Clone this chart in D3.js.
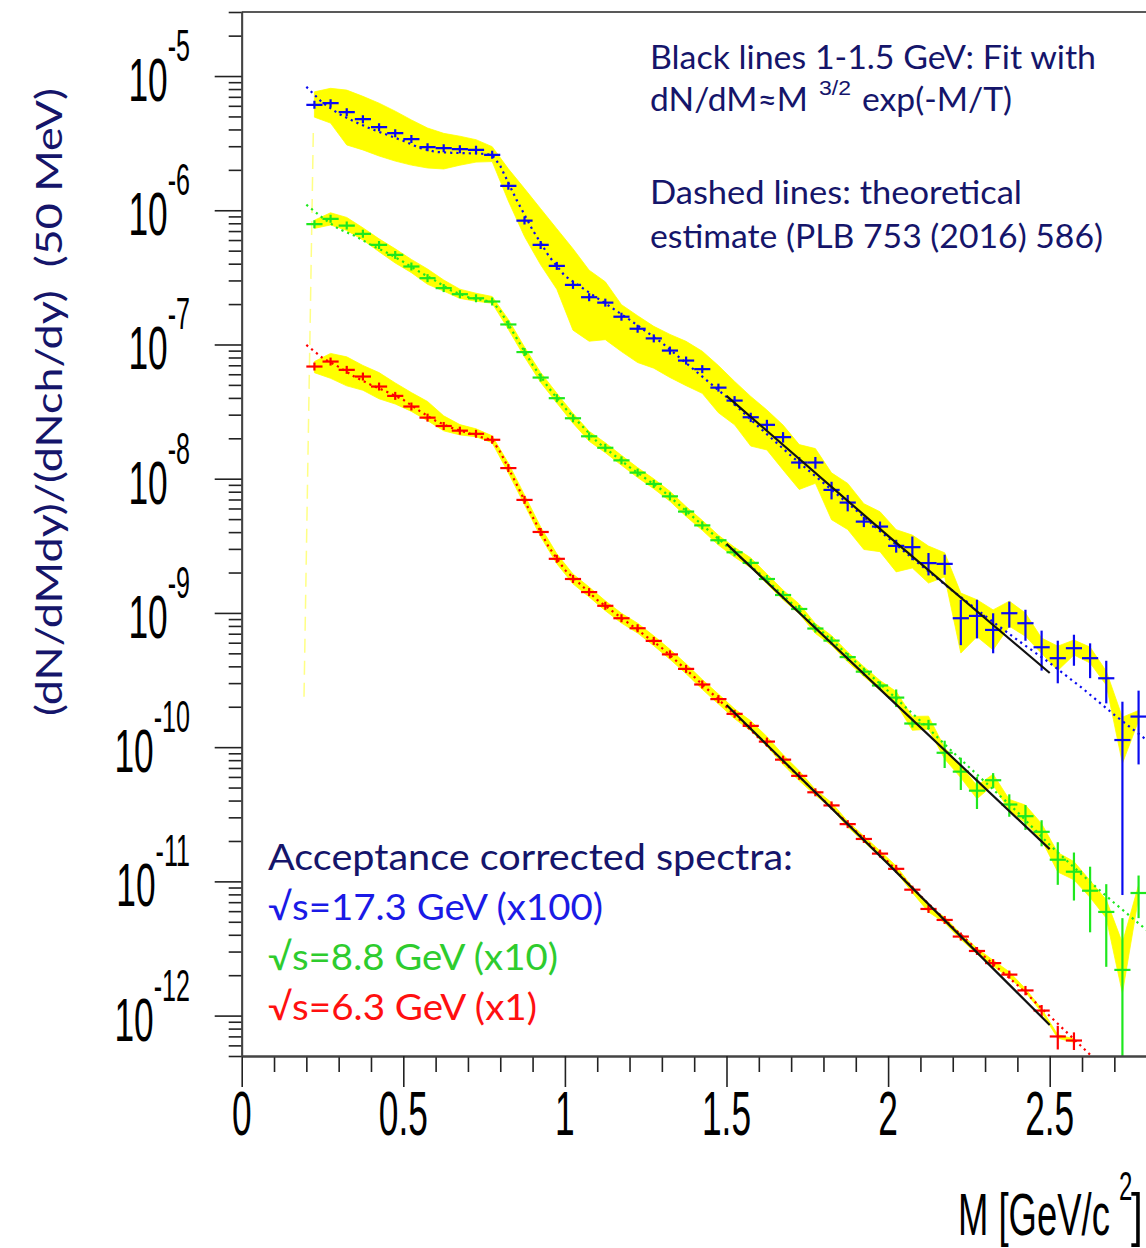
<!DOCTYPE html>
<html>
<head>
<meta charset="utf-8">
<script src="https://cdn.jsdelivr.net/npm/d3@7/dist/d3.min.js"></script>
<style>
  html, body { margin:0; padding:0; background:#fff; }
  svg { display:block; }
</style>
</head>
<body>
<svg id="chart" width="1146" height="1248"></svg>
<script>
// ---------------- DATA ----------------
const massBins = [0.225,0.275,0.325,0.375,0.425,0.475,0.525,0.575,0.625,0.675,0.725,0.775,
  0.825,0.875,0.925,0.975,1.025,1.075,1.125,1.175,1.225,1.275,1.325,1.375,
  1.425,1.475,1.525,1.575,1.625,1.675,1.725,1.775,1.825,1.875,1.925,1.975,
  2.025,2.075,2.125,2.175,2.225,2.275,2.325,2.375,2.425,2.475,2.525,2.575,
  2.625,2.675,2.725,2.775];

// sqrt(s)=17.3 GeV (x100)
const blueValues = [6.10e-6,6.28e-6,5.38e-6,4.77e-6,4.16e-6,3.75e-6,3.39e-6,2.95e-6,2.90e-6,2.85e-6,2.82e-6,2.59e-6,
  1.52e-6,8.38e-7,5.52e-7,3.85e-7,2.78e-7,2.25e-7,2.05e-7,1.61e-7,1.31e-7,1.11e-7,9.01e-8,7.59e-8,
  6.55e-8,4.77e-8,3.82e-8,2.87e-8,2.52e-8,2.04e-8,1.32e-8,1.32e-8,8.25e-9,6.64e-9,4.79e-9,4.40e-9,
  3.16e-9,3.09e-9,2.35e-9,2.32e-9,9.13e-10,9.50e-10,7.47e-10,9.95e-10,8.38e-10,5.55e-10,4.60e-10,5.46e-10,
  4.60e-10,3.26e-10,1.13e-10,1.69e-10];
const blueErr = [0.03,0.03,0.03,0.03,0.03,0.03,0.03,0.03,0.03,0.03,0.03,0.03,
  0.04,0.04,0.04,0.04,0.04,0.04,0.04,0.04,0.04,0.04,0.05,0.05,
  0.05,0.05,0.08,0.08,0.09,0.09,0.10,0.10,0.15,0.14,0.09,0.09,
  0.11,0.20,0.19,0.17,0.37,0.32,0.33,0.22,0.26,0.33,0.35,0.26,
  0.29,0.35,0.93,0.56];
const blueSysUp = [0.25,0.29,0.46,0.48,0.51,0.46,0.39,0.39,0.29,0.25,0.19,0.15,
  0.34,0.73,0.86,0.89,0.86,0.59,0.43,0.23,0.25,0.23,0.32,0.39,
  0.36,0.46,0.39,0.43,0.29,0.23,0.36,0.27,0.34,0.39,0.36,0.29,
  0.32,0.23,0.34,0.21,0.54,0.32,0.41,0.23,0.19,0.17,0.23,0.15,
  0.21,0.13,0.48,0.11];
const blueSysDn = [0.19,0.29,0.43,0.41,0.39,0.38,0.36,0.30,0.30,0.24,0.19,0.11,
  0.23,0.24,0.29,0.33,0.54,0.53,0.47,0.45,0.44,0.40,0.37,0.35,
  0.34,0.35,0.34,0.39,0.35,0.43,0.37,0.30,0.40,0.37,0.38,0.35,
  0.36,0.30,0.29,0.20,0.45,0.30,0.29,0.20,0.20,0.10,0.19,0.11,
  0.08,0.11,0.33,0.07];

// sqrt(s)=8.8 GeV (x10)
const greenValues = [7.88e-7,8.63e-7,7.69e-7,6.67e-7,5.52e-7,4.65e-7,3.81e-7,3.12e-7,2.63e-7,2.37e-7,2.21e-7,2.09e-7,
  1.41e-7,8.78e-8,5.67e-8,3.98e-8,2.82e-8,2.07e-8,1.70e-8,1.37e-8,1.11e-8,9.15e-9,7.39e-9,5.69e-9,
  4.49e-9,3.48e-9,2.83e-9,2.36e-9,1.79e-9,1.36e-9,1.07e-9,7.65e-10,6.22e-10,4.69e-10,3.65e-10,2.88e-10,
  2.34e-10,1.50e-10,1.48e-10,9.08e-11,6.57e-11,4.74e-11,5.67e-11,3.74e-11,3.06e-11,2.34e-11,1.45e-11,1.18e-11,
  8.52e-12,5.92e-12,2.19e-12,8.19e-12];
const greenErr = [0.03,0.03,0.03,0.03,0.03,0.03,0.03,0.03,0.03,0.03,0.03,0.03,
  0.03,0.03,0.03,0.03,0.03,0.03,0.03,0.03,0.03,0.04,0.04,0.04,
  0.04,0.04,0.04,0.04,0.04,0.04,0.04,0.06,0.06,0.06,0.06,0.06,
  0.15,0.06,0.08,0.23,0.27,0.27,0.13,0.19,0.21,0.22,0.35,0.39,
  0.51,0.61,1.43,0.35];
const greenSysUp = [0.07,0.11,0.15,0.11,0.11,0.11,0.13,0.17,0.15,0.09,0.09,0.09,
  0.09,0.09,0.09,0.09,0.09,0.09,0.09,0.09,0.09,0.09,0.09,0.09,
  0.09,0.09,0.09,0.09,0.09,0.09,0.09,0.09,0.09,0.09,0.09,0.09,
  0.11,0.13,0.15,0.09,0.11,0.09,0.11,0.09,0.21,0.15,0.13,0.19,
  0.19,0.23,0.59,0.15];
const greenSysDn = [0.07,0.10,0.08,0.10,0.11,0.13,0.10,0.10,0.05,0.07,0.05,0.03,
  0.08,0.08,0.08,0.08,0.08,0.08,0.08,0.08,0.08,0.08,0.08,0.08,
  0.08,0.08,0.08,0.08,0.08,0.08,0.08,0.08,0.08,0.08,0.08,0.08,
  0.10,0.11,0.08,0.10,0.10,0.13,0.08,0.10,0.11,0.13,0.19,0.13,
  0.11,0.10,0.33,0.07];

// sqrt(s)=6.3 GeV (x1)
const redValues = [6.85e-8,7.46e-8,6.47e-8,5.77e-8,4.86e-8,4.14e-8,3.45e-8,2.85e-8,2.47e-8,2.28e-8,2.16e-8,1.95e-8,
  1.20e-8,6.95e-9,4.01e-9,2.53e-9,1.79e-9,1.43e-9,1.13e-9,9.13e-10,7.69e-10,6.19e-10,4.91e-10,3.83e-10,
  2.93e-10,2.28e-10,1.77e-10,1.44e-10,1.10e-10,8.07e-11,6.11e-11,4.61e-11,3.68e-11,2.67e-11,2.07e-11,1.61e-11,
  1.24e-11,8.67e-12,6.23e-12,5.16e-12,3.88e-12,3.03e-12,2.46e-12,2.02e-12,1.54e-12,1.09e-12,6.99e-13,6.52e-13];
const redErr = [0.03,0.03,0.03,0.03,0.03,0.03,0.03,0.03,0.03,0.03,0.03,0.03,
  0.03,0.03,0.03,0.03,0.03,0.03,0.03,0.03,0.03,0.03,0.03,0.03,
  0.03,0.03,0.03,0.03,0.03,0.03,0.03,0.03,0.03,0.03,0.03,0.03,
  0.05,0.05,0.05,0.05,0.05,0.05,0.05,0.05,0.08,0.10,0.20,0.15];
const redSysUp = [0.09,0.15,0.25,0.21,0.27,0.25,0.27,0.32,0.19,0.11,0.09,0.07,
  0.09,0.09,0.09,0.09,0.09,0.09,0.09,0.09,0.09,0.09,0.09,0.09,
  0.09,0.09,0.09,0.09,0.09,0.09,0.09,0.05,0.05,0.05,0.05,0.05,
  0.05,0.05,0.05,0.05,0.05,0.05,0.05,0.05,0.03,0.03,0.03,0.03];
const redSysDn = [0.10,0.25,0.24,0.21,0.19,0.13,0.08,0.05,0.08,0.07,0.05,0.05,
  0.08,0.08,0.08,0.08,0.08,0.08,0.08,0.08,0.08,0.08,0.08,0.08,
  0.08,0.08,0.08,0.08,0.08,0.08,0.08,0.05,0.05,0.05,0.05,0.05,
  0.05,0.05,0.05,0.05,0.05,0.05,0.05,0.05,0.03,0.03,0.03,0.03];

// theoretical estimates (dashed lines)
const theoryMass = [0.2,0.25,0.3,0.35,0.4,0.45,0.5,0.55,0.6,0.65,0.7,0.75,0.775,0.8,0.85,0.9,0.95,1.0,
  1.1,1.2,1.3,1.4,1.5,1.6,1.7,1.8,1.9,2.0,2.1,2.2,2.3,2.4,2.5,2.6,2.7,2.8];
const blueTheory = [8.31e-6,6.32e-6,5.23e-6,4.56e-6,4.04e-6,3.65e-6,3.29e-6,2.92e-6,2.72e-6,2.68e-6,2.66e-6,2.63e-6,2.59e-6,
  2.14e-6,1.20e-6,7.14e-7,4.57e-7,3.24e-7,2.22e-7,1.53e-7,1.03e-7,6.47e-8,4.07e-8,2.43e-8,1.48e-8,9.30e-9,
  5.85e-9,3.62e-9,2.28e-9,1.46e-9,9.50e-10,6.29e-10,4.24e-10,2.76e-10,1.74e-10,1.13e-10];
const greenTheory = [1.10e-6,8.78e-7,7.27e-7,6.45e-7,5.52e-7,4.82e-7,4.13e-7,3.48e-7,2.98e-7,2.51e-7,2.26e-7,2.13e-7,2.08e-7,
  1.78e-7,1.12e-7,7.05e-8,4.75e-8,3.37e-8,1.88e-8,1.22e-8,8.25e-9,5.10e-9,3.16e-9,1.99e-9,1.19e-9,7.10e-10,
  4.31e-10,2.62e-10,1.57e-10,9.21e-11,5.50e-11,3.29e-11,1.87e-11,1.12e-11,6.90e-12,4.34e-12];
const redTheory = [9.93e-8,7.95e-8,6.81e-8,5.74e-8,5.00e-8,4.43e-8,3.87e-8,3.20e-8,2.70e-8,2.39e-8,2.19e-8,2.01e-8,1.95e-8,
  1.58e-8,9.15e-9,5.19e-9,3.10e-9,2.09e-9,1.25e-9,8.28e-10,5.48e-10,3.34e-10,1.99e-10,1.17e-10,6.88e-11,4.04e-11,
  2.37e-11,1.40e-11,7.79e-12,4.57e-12,2.73e-12,1.69e-12,9.93e-13,5.84e-13,3.43e-13,2.0e-13];

// black fit lines
const fitMass = [1.5, 2.0, 2.5];
const blueFit = [4.14e-8, 3.75e-9, 3.57e-10];
const greenFit = [3.27e-9, 2.37e-10, 1.74e-11];
const redFit = [2.06e-10, 1.35e-11, 8.51e-13];

// faint band edge artifact near threshold
const bandEdgeMass = [0.2215, 0.1928];
const bandEdgeValue = [3.77e-6, 2.37e-10];

// axis tick labels
const xTickValues = [0, 0.5, 1, 1.5, 2, 2.5];
const xTickLabels = ["0", "0.5", "1", "1.5", "2", "2.5"];
const yDecades = [1e-12,1e-11,1e-10,1e-9,1e-8,1e-7,1e-6,1e-5];
const yExponents = ["-12","-11","-10","-9","-8","-7","-6","-5"];

// ---------------- DRAW ----------------
const svg = d3.select("#chart");
svg.append("rect").attr("width",1146).attr("height",1248).attr("fill","#fff");

const x = d3.scaleLinear().domain([0, 2.8]).range([241.7, 1146.66]);
const y = d3.scaleLog().domain([5e-13, 3e-5]).range([1056, 12]);

const colors = { blue:"#0a0af0", green:"#1ee81e", red:"#ff0000" };
const NAVY = "#15156a";

svg.append("defs").append("clipPath").attr("id","plotclip")
  .append("rect").attr("x",241.7).attr("y",12).attr("width",1146.66-241.7).attr("height",1056-12);

const plot = svg.append("g").attr("clip-path","url(#plotclip)");

const series = [
  {vals:blueValues, err:blueErr, up:blueSysUp, dn:blueSysDn, th:blueTheory, fit:blueFit, color:colors.blue},
  {vals:greenValues, err:greenErr, up:greenSysUp, dn:greenSysDn, th:greenTheory, fit:greenFit, color:colors.green},
  {vals:redValues, err:redErr, up:redSysUp, dn:redSysDn, th:redTheory, fit:redFit, color:colors.red}
];
series.forEach(s => {
  s.pts = s.vals.map((v,i) => ({m:massBins[i], v, r:s.err[i], hi:v*(1+s.up[i]), lo:v*(1-s.dn[i])}));
});

// faint yellow edge
plot.append("line")
  .attr("x1", x(bandEdgeMass[0])).attr("y1", y(bandEdgeValue[0]))
  .attr("x2", x(bandEdgeMass[1])).attr("y2", y(bandEdgeValue[1]))
  .attr("stroke","#ffff66").attr("stroke-width",1.5).attr("stroke-dasharray","14,8").attr("opacity",0.8);

// bands
const area = d3.area().x(d=>x(d.m)).y0(d=>y(d.lo)).y1(d=>y(d.hi));
series.forEach(s => {
  plot.append("path").datum(s.pts).attr("d", area).attr("fill","#ffff00").attr("stroke","#ffff00").attr("stroke-width",0.8);
});

// theory dotted lines
const thLine = d3.line().x(d=>x(d[0])).y(d=>y(d[1]));
series.forEach(s => {
  plot.append("path").datum(theoryMass.map((m,i)=>[m, s.th[i]]))
    .attr("d", thLine).attr("fill","none").attr("stroke", s.color)
    .attr("stroke-width",2.2).attr("stroke-dasharray","2.2,4");
});

// data points with error bars
series.forEach(s => {
  const g = plot.append("g").attr("stroke", s.color).attr("stroke-width", 2.2);
  g.selectAll(".h").data(s.pts).join("line")
    .attr("x1", d=>x(d.m-0.025)).attr("x2", d=>x(d.m+0.025))
    .attr("y1", d=>y(d.v)).attr("y2", d=>y(d.v));
  g.selectAll(".v").data(s.pts).join("line")
    .attr("x1", d=>x(d.m)).attr("x2", d=>x(d.m))
    .attr("y1", d=>Math.min(y(d.v*(1+d.r)), y(d.v)-4))
    .attr("y2", d=> d.r < 1 ? Math.max(y(d.v*(1-d.r)), y(d.v)+4) : 1070);
});

// black fit lines
const fitLine = d3.line().x(d=>x(d[0])).y(d=>y(d[1])).curve(d3.curveNatural);
series.forEach(s => {
  plot.append("path").datum(fitMass.map((m,i)=>[m, s.fit[i]]))
    .attr("d", fitLine).attr("fill","none").attr("stroke","#111").attr("stroke-width",2.2);
});

// ---------------- AXES ----------------
const axisColor = "#222";
const xMinor = d3.range(1, 28).map(i => i/10).filter(v => Math.abs(v*2 - Math.round(v*2)) > 1e-6);
const gxMinor = svg.append("g").attr("transform","translate(0,1056)")
  .call(d3.axisBottom(x).tickValues(xMinor).tickSize(16).tickSizeOuter(0).tickFormat(""));
const gx = svg.append("g").attr("transform","translate(0,1056)")
  .call(d3.axisBottom(x).tickValues(xTickValues).tickSize(31).tickSizeOuter(0).tickFormat(""));

const yMinor = [];
for (let e = -13; e <= -5; e++) for (let m = 2; m <= 9; m++) {
  const v = m * Math.pow(10, e);
  if (v >= 5e-13 * 0.999 && v <= 3e-5 * 1.001) yMinor.push(v);
}
const gyMinor = svg.append("g").attr("transform","translate(241.7,0)")
  .call(d3.axisLeft(y).tickValues(yMinor).tickSize(13).tickSizeOuter(0).tickFormat(""));
const gy = svg.append("g").attr("transform","translate(241.7,0)")
  .call(d3.axisLeft(y).tickValues(yDecades).tickSize(27).tickSizeOuter(0).tickFormat(""));

[gxMinor, gx, gyMinor, gy].forEach(g => {
  g.selectAll("line").attr("stroke", axisColor).attr("stroke-width", 1.6);
  g.select(".domain").attr("stroke", "#444").attr("stroke-width", 1.8);
});
// top frame line
svg.append("line").attr("x1",241.7).attr("x2",1146).attr("y1",12).attr("y2",12)
  .attr("stroke","#222").attr("stroke-width",1.6);

// x tick labels
const axFont = "'Liberation Sans', Arial, sans-serif";
xTickValues.forEach((v,i) => {
  svg.append("text")
    .attr("transform", `translate(${x(v)},1135) scale(0.56,1)`)
    .attr("text-anchor","middle")
    .attr("font-family",axFont)
    .attr("font-size",63).attr("fill","#000")
    .text(xTickLabels[i]);
});
// y tick labels
yDecades.forEach((v,i) => {
  const t = svg.append("text")
    .attr("transform", `translate(190,${y(v)+25}) scale(0.57,1)`)
    .attr("text-anchor","end")
    .attr("font-family",axFont)
    .attr("font-size",62).attr("fill","#000");
  t.append("tspan").text("10");
  t.append("tspan").attr("dy",-40).attr("font-size",44).text(yExponents[i]);
});

// x axis title
svg.append("text").attr("transform","translate(958,1235) scale(0.618,1)")
  .attr("font-family",axFont).attr("font-size",59).attr("fill","#000").text("M [GeV/c");
svg.append("text").attr("transform","translate(1119,1200) scale(0.6,1)")
  .attr("font-family",axFont).attr("font-size",40).attr("fill","#000").text("2");
svg.append("text").attr("transform","translate(1131,1235) scale(0.72,1)")
  .attr("font-family",axFont).attr("font-size",59).attr("fill","#000").text("]");

// y axis title
const txtFont = "Lato, 'Open Sans', sans-serif";
svg.append("text")
  .attr("transform","translate(62,402) rotate(-90)")
  .attr("text-anchor","middle").attr("font-family",txtFont).attr("font-size",37).attr("fill",NAVY)
  .attr("textLength",628).attr("lengthAdjust","spacingAndGlyphs")
  .text("(dN/dMdy)/(dNch/dy)\u00a0\u00a0(50 MeV)");

// annotations
function label(tx, xx, yy, size, len, color, font) {
  svg.append("text").attr("x",xx).attr("y",yy).attr("font-family",font || txtFont).attr("font-size",size)
    .attr("fill",color).attr("textLength",len).attr("lengthAdjust","spacingAndGlyphs").text(tx);
}
label("Black lines 1-1.5 GeV: Fit with", 650, 69, 32, 446, NAVY);
label("dN/dM\u2248M", 650, 111, 32, 158, NAVY);
label("3/2", 819, 94.5, 20, 32, NAVY, axFont);
label("exp(-M/T)", 862, 111, 32, 150, NAVY);
label("Dashed lines: theoretical", 650, 204, 32, 372, NAVY);
label("estimate (PLB 753 (2016) 586)", 650, 248, 32, 453, NAVY);

label("Acceptance corrected spectra:", 268, 870, 37, 525, NAVY);
label("\u221As=17.3 GeV (x100)", 268, 920, 37, 335, "#1a1ae6");
label("\u221As=8.8 GeV (x10)", 268, 970, 37, 290, "#2ecc2e");
label("\u221As=6.3 GeV (x1)", 268, 1020, 37, 269, "#ff1010");
</script>
</body>
</html>
